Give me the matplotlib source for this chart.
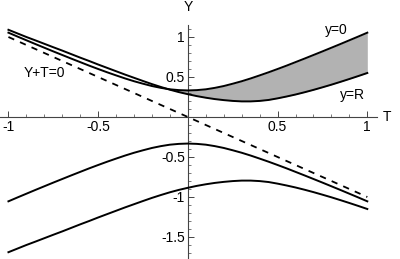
import matplotlib
matplotlib.use("Agg")
import matplotlib.pyplot as plt
from matplotlib.ticker import MultipleLocator, FixedLocator

plt.rcParams['font.family'] = ['Liberation Sans', 'DejaVu Sans']

T = [-1.00, -0.95, -0.90, -0.85, -0.80, -0.75, -0.70, -0.65, -0.60, -0.55,
     -0.50, -0.45, -0.40, -0.35, -0.30, -0.25, -0.20, -0.15, -0.10, -0.05,
     0.00, 0.05, 0.10, 0.15, 0.20, 0.25, 0.30, 0.35, 0.40, 0.45,
     0.50, 0.55, 0.60, 0.65, 0.70, 0.75, 0.80, 0.85, 0.90, 0.95, 1.00]

# curve labelled y=0
y_zero = [1.054, 1.006, 0.959, 0.912, 0.866, 0.820, 0.775, 0.730, 0.686, 0.642,
          0.600, 0.559, 0.520, 0.482, 0.447, 0.416, 0.387, 0.364, 0.346, 0.336,
          0.332, 0.336, 0.346, 0.364, 0.387, 0.416, 0.447, 0.482, 0.520, 0.559,
          0.600, 0.642, 0.686, 0.730, 0.775, 0.820, 0.866, 0.912, 0.959, 1.006, 1.054]

# curve labelled y=R
y_R = [1.090, 1.045, 1.000, 0.958, 0.915, 0.872, 0.830, 0.786, 0.742, 0.700,
       0.656, 0.614, 0.572, 0.530, 0.490, 0.450, 0.411, 0.375, 0.341, 0.311,
       0.285, 0.261, 0.241, 0.224, 0.211, 0.201, 0.195, 0.195, 0.201, 0.213,
       0.233, 0.256, 0.281, 0.309, 0.339, 0.371, 0.404, 0.439, 0.475, 0.512, 0.550]

# lower branch mirroring y=0
y_low1 = [-1.054, -1.006, -0.959, -0.912, -0.866, -0.820, -0.775, -0.730, -0.686, -0.642,
          -0.600, -0.559, -0.520, -0.482, -0.447, -0.416, -0.387, -0.364, -0.346, -0.336,
          -0.332, -0.336, -0.346, -0.364, -0.387, -0.416, -0.447, -0.482, -0.520, -0.559,
          -0.600, -0.642, -0.686, -0.730, -0.775, -0.820, -0.866, -0.912, -0.959, -1.006, -1.054]

# lowest branch
y_low2 = [-1.690, -1.645, -1.600, -1.558, -1.515, -1.472, -1.430, -1.386, -1.342, -1.300,
          -1.256, -1.214, -1.172, -1.130, -1.090, -1.050, -1.011, -0.975, -0.941, -0.911,
          -0.885, -0.861, -0.841, -0.824, -0.811, -0.801, -0.795, -0.795, -0.801, -0.813,
          -0.833, -0.856, -0.881, -0.909, -0.939, -0.971, -1.004, -1.039, -1.075, -1.112, -1.150]

line_T = [-1.0, 1.0]
line_Y = [1.0, -1.0]

x_ticks = [-1, -0.5, 0.5, 1]
x_labels = ["-1", "-0.5", "0.5", "1"]
y_ticks = [1, 0.5, -0.5, -1, -1.5]
y_labels = ["1", "0.5", "-0.5", "-1", "-1.5"]

fig = plt.figure(figsize=(4.0, 2.59), dpi=100)
ax = fig.add_axes([0.0, 0.0, 0.9425, 0.9035])
ax.set_xlim(-1.047, 1.054)
ax.set_ylim(-1.775, 1.15)

fill_mask = [a >= b for a, b in zip(y_zero, y_R)]
ax.fill_between(T, y_R, y_zero, where=fill_mask, interpolate=True,
                color='#b2b2b2', linewidth=0, zorder=1)

lw = 1.4
ax.plot(T, y_zero, color='black', lw=lw, zorder=3)
ax.plot(T, y_R, color='black', lw=lw, zorder=3)
ax.plot(T, y_low1, color='black', lw=lw, zorder=3)
ax.plot(T, y_low2, color='black', lw=lw, zorder=3)
ax.plot(line_T, line_Y, color='black', lw=1.3, dashes=(3.5, 3.5), zorder=3)

for s in ['top', 'right']:
    ax.spines[s].set_visible(False)
ax.spines['left'].set_position(('data', 0))
ax.spines['bottom'].set_position(('data', 0))
for s in ['left', 'bottom']:
    ax.spines[s].set_linewidth(0.8)
    ax.spines[s].set_color('#444444')

ax.xaxis.set_major_locator(FixedLocator(x_ticks))
ax.set_xticklabels(x_labels)
ax.yaxis.set_major_locator(FixedLocator(y_ticks))
ax.set_yticklabels(y_labels)
ax.xaxis.set_minor_locator(MultipleLocator(0.1))
ax.yaxis.set_minor_locator(MultipleLocator(0.1))
ax.tick_params(which='major', direction='in', length=4, width=0.7, color='#444444',
               labelsize=10, pad=2)
ax.tick_params(which='minor', direction='in', length=2, width=0.5, color='#444444')
ax.patch.set_alpha(0)

ax.text(-0.80, 0.55, "Y+T=0", fontsize=10, ha='center', va='center')
ax.text(0.826, 1.09, "y=0", fontsize=10, ha='center', va='center')
ax.text(0.915, 0.275, "y=R", fontsize=10, ha='center', va='center')
ax.text(1.11, 0.0, "T", fontsize=10, ha='center', va='center', clip_on=False)
ax.text(0.0, 1.37, "Y", fontsize=10, ha='center', va='center', clip_on=False)

fig.savefig("out.png", dpi=100)
